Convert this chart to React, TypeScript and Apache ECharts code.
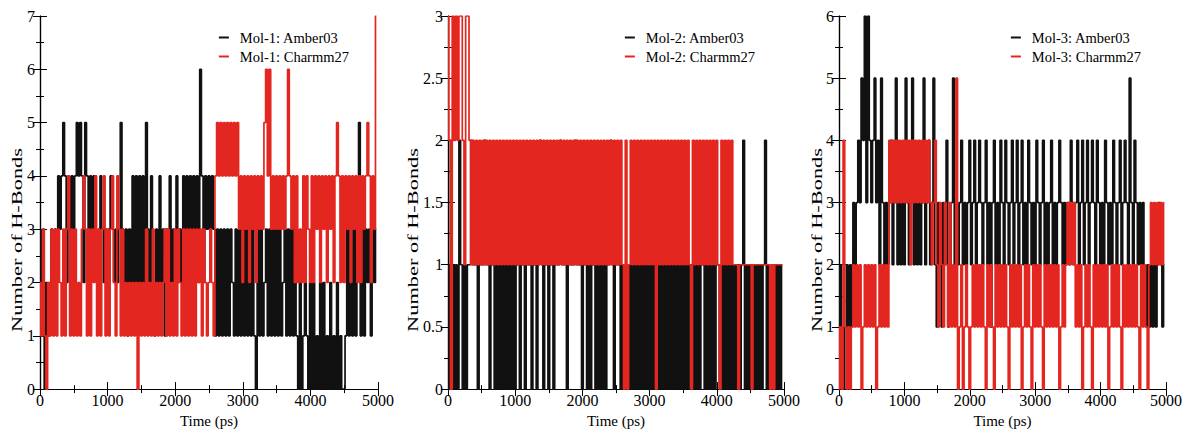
import React, { useEffect, useRef } from "react";
import * as echarts from "echarts";

const STEP_PS = 25;

const mol1Amber = [
  3,2,3,0,2,1,2,3,2,3, 2,4,3,4,5,4,2,4,3,4, 2,4,5,4,5,4,2,5,4,2, 4,3,4,3,2,3,4,3,2,3,
  2,3,4,3,2,3,2,3,5,3, 2,3,1,3,2,4,2,4,2,4, 2,4,2,5,3,2,4,2,1,3, 2,4,2,3,1,3,2,4,2,3,
  2,4,2,3,2,4,2,4,3,4, 2,4,3,4,2,6,4,2,4,3, 4,3,4,3,1,3,1,3,1,3, 1,3,1,3,2,1,3,1,3,1,
  3,1,3,1,3,1,3,1,0,3, 1,3,1,2,3,1,3,1,3,1, 3,1,3,1,2,3,1,3,1,3, 1,3,1,0,2,0,1,3,1,0,
  2,0,2,0,1,0,2,0,2,0, 1,0,2,0,1,0,2,0,1,0, 0,1,3,1,3,1,3,1,3,5, 1,3,1,3,2,3,1,3,2,3,
];
const mol1Charmm = [
  2,1,3,1,0,2,1,3,1,3, 1,3,2,1,3,1,3,4,1,3, 1,3,1,2,1,3,4,3,1,3, 1,3,2,4,1,3,1,3,4,1,
  3,1,3,4,2,1,4,3,1,3, 1,2,1,2,1,2,1,2,0,2, 1,2,1,3,1,2,1,3,1,2, 1,2,1,2,3,1,3,1,2,1,
  3,1,3,2,1,3,1,3,1,3, 1,3,1,3,2,3,1,3,2,1, 2,3,2,1,4,5,4,5,4,5, 4,5,4,5,4,5,4,5,3,4,
  2,4,3,4,2,4,3,4,2,4, 3,4,3,5,6,4,6,3,4,3, 4,3,4,3,4,3,4,6,4,3, 4,2,4,2,3,2,4,2,4,3,
  2,4,2,4,3,4,2,4,3,4, 2,4,3,4,2,4,5,4,2,4, 2,4,3,4,2,4,3,4,2,4, 2,4,3,4,5,4,2,4,3,7,
];
const mol2Amber = [
  1,0,2,1,0,1,0,2,1,0,1,0,
  1,1,2,1,1,1,0,1,1,1,2,1,1,0,1,1,
  0,1,0,1,0,1,0,1,0,1,0,1,0,
  1,1,0,1,1,0,1,1,1,0,1,1,0,1,2,1,0,1,1,0,1,1,0,
  1,1,1,2,1,1,1,0,1,1,1,1,2,1,1,1,
  0,1,1,0,1,0,1,1,0,1,0,1,0,1,0,
  1,1,2,1,0,1,1,1,0,1,
  0,1,0,1,0,1,0,1,0,1,0,1,0,1,0,
  1,0,1,0,1,0,1,0,1,0,1,0,1,0,1,0,1,0,1,0,
  1,0,1,0,1,1,0,1,0,1,0,1,1,0,1,0,1,0,1,0,1,1,0,1,0,1,0,
  1,0,1,0,1,0,1,0,1,2,0,1,0,1,0,1,0,1,0,1,0,1,2,0,1,0,1,0,1,0,1,0,1,
];
const mol2Charmm = [
  3,2,0,3,2,3,2,3,3,2,1,3,3,2, 1,2,1,2,1,2,
  1,2,1,2,1,2,1,2,1,2, 1,2,1,2,1,2,1,2,1,2, 1,2,1,2,1,2,1,2,1,2, 1,2,1,2,1,2,1,2,1,2,
  1,2,1,2,1,2,1,2,1,2, 1,2,1,2,1,2,1,2,1,2, 1,2,1,2,1,2,1,2,1,2, 1,2,1,2,1,2,1,2,1,2,
  1,2,1,2,1,0,2,0,1,2, 1,2,1,2,1,2,1,2,1,2, 1,2,1,2,0,2,1,2,1,2, 1,2,1,2,1,2,1,2,1,2,
  1,2,1,2,1,0,2,1,2,1, 2,1,2,1,2,1,2,1,2,1, 2,1,0,2,1,2,1,2,1,2,1,
  1,1,0,1,1,1,1,1,1,1, 0,1,1,1,1,1,1,1,1,1, 1,0,1,0,1,1,1,1,1,
];
const mol3Amber = [
  1,2,1,0,1,2,1,2,1,3, 2,3,4,3,5,4,6,3,6,4, 3,4,5,3,4,2,5,3,2,3, 2,3,4,2,3,5,2,3,2,3,
  2,5,3,2,3,5,2,3,2,3, 2,3,5,2,3,4,2,3,5,2, 1,3,2,1,3,2,4,1,2,3, 5,2,3,2,3,4,2,3,2,3,
  4,2,3,4,2,3,4,3,2,3, 4,2,3,1,3,4,2,3,2,4, 3,2,4,3,2,3,4,2,3,4, 2,3,4,2,3,2,4,3,2,3,
  2,4,3,2,3,4,2,3,2,3, 4,2,3,2,3,4,3,2,3,2, 3,2,4,3,2,3,4,2,3,4, 2,3,4,2,3,4,3,2,4,3,
  2,3,2,4,3,2,3,2,4,3, 2,3,4,2,3,4,3,2,5,3, 2,4,3,2,3,2,3,2,1,2, 1,2,1,2,1,2,3,2,1,2,
];
const mol3Charmm = [
  0,1,0,4,1,0,1,0,1,2, 1,2,1,2,0,1,2,1,2,1, 2,1,2,0,1,2,1,2,1,2, 1,4,3,4,3,4,3,4,3,4,
  3,4,3,4,2,4,3,4,3,4, 3,4,3,4,3,4,3,2,3,4, 2,1,3,2,1,3,2,1,3,1, 2,1,5,0,1,2,0,1,2,1,
  0,1,2,1,2,1,2,1,2,1, 0,2,1,2,1,0,2,1,2,1, 2,1,2,1,0,2,1,2,1,2, 1,2,0,1,2,1,2,1,0,2,
  1,2,1,2,1,0,2,1,2,1, 2,1,2,1,2,0,1,2,1,2, 3,2,3,2,3,1,2,1,2,0, 1,2,1,2,1,0,2,1,2,1,
  2,1,2,1,2,0,1,2,1,2, 1,2,1,0,2,1,2,1,2,1, 2,1,2,1,0,2,1,2,1,0, 2,3,2,3,2,3,2,3,2,3,
];

const panels = [
  { mol: "Mol-1", amber: mol1Amber, charmm: mol1Charmm, yMax: 7, yInt: 1, left: 40, width: 338, nameX: 17 },
  { mol: "Mol-2", amber: mol2Amber, charmm: mol2Charmm, yMax: 3, yInt: 0.5, left: 448, width: 336, nameX: 413 },
  { mol: "Mol-3", amber: mol3Amber, charmm: mol3Charmm, yMax: 6, yInt: 1, left: 839, width: 331, nameX: 817 },
];

const FONT = "Liberation Serif";
const BLACK = "#111111";
const RED = "#e3261f";

function toPairs(vals: number[]) {
  return vals.map((v, i) => [i * STEP_PS, v]);
}

export default function App() {
  const ref = useRef<HTMLDivElement>(null);
  useEffect(() => {
    if (!ref.current) return;
    const chart = echarts.init(ref.current, null, { renderer: "svg" });
    const grid: any[] = [];
    const xAxis: any[] = [];
    const yAxis: any[] = [];
    const series: any[] = [];
    const legend: any[] = [];
    const graphic: any[] = [];
    const axisCommon = {
      axisLine: { show: true, lineStyle: { color: "#000", width: 1.2 } },
      axisTick: { show: true, inside: true, length: 7, lineStyle: { color: "#000" } },
      minorTick: { show: true, splitNumber: 2, length: 4, lineStyle: { color: "#000" } },
      splitLine: { show: false },
    };
    panels.forEach((p, k) => {
      grid.push({ left: p.left, top: 16, width: p.width, height: 382 });
      const xBase = {
        ...axisCommon,
        type: "value",
        gridIndex: k,
        min: 0,
        max: 5000,
        interval: 1000,
      };
      xAxis.push({
        ...xBase,
        position: "bottom",
        name: "Time (ps)",
        nameLocation: "middle",
        nameGap: 21,
        nameTextStyle: { fontFamily: FONT, fontSize: 15, color: "#000" },
        axisLabel: {
          fontFamily: FONT,
          fontSize: 16,
          color: "#000",
          margin: 3,
          formatter: (v: number) => String(v),
        },
      });
      xAxis.push({ ...xBase, position: "top", axisLabel: { show: false } });
      const yBase = {
        ...axisCommon,
        type: "value",
        gridIndex: k,
        min: 0,
        max: p.yMax,
        interval: p.yInt,
      };
      yAxis.push({
        ...yBase,
        position: "left",
        axisLabel: {
          fontFamily: FONT,
          fontSize: 16,
          color: "#000",
          margin: 5,
          formatter: (v: number) => String(v),
        },
      });
      yAxis.push({ ...yBase, position: "right", axisLabel: { show: false } });
      graphic.push({
        type: "text",
        x: p.nameX,
        y: 240,
        rotation: Math.PI / 2,
        scaleX: 1.6,
        scaleY: 1,
        style: {
          text: "Number of H-Bonds",
          fontFamily: FONT,
          fontSize: 14,
          fill: "#000",
          align: "center",
          verticalAlign: "middle",
        },
      });
      const nA = `${p.mol}: Amber03`;
      const nC = `${p.mol}: Charmm27`;
      series.push({
        name: nA,
        type: "line",
        step: "middle",
        xAxisIndex: 2 * k,
        yAxisIndex: 2 * k,
        data: toPairs(p.amber),
        showSymbol: false,
        symbol: "none",
        lineStyle: { color: BLACK, width: 1.7 },
        itemStyle: { color: BLACK },
        z: 2,
      });
      series.push({
        name: nC,
        type: "line",
        step: "middle",
        xAxisIndex: 2 * k,
        yAxisIndex: 2 * k,
        data: toPairs(p.charmm),
        showSymbol: false,
        symbol: "none",
        lineStyle: { color: RED, width: 1.7 },
        itemStyle: { color: RED },
        z: 3,
      });
      legend.push({
        data: [
          { name: nA, itemStyle: { color: BLACK } },
          { name: nC, itemStyle: { color: RED } },
        ],
        orient: "vertical",
        right: 1185 - (p.left + p.width) + 24,
        top: 25,
        icon: "rect",
        itemWidth: 10,
        itemHeight: 2,
        itemGap: 4,
        selectedMode: false,
        textStyle: { fontFamily: FONT, fontSize: 14.5, color: "#000", padding: [0, 0, 0, 6] },
      });
    });
    chart.setOption({
      animation: false,
      backgroundColor: "#fff",
      textStyle: { fontFamily: FONT },
      grid,
      xAxis,
      yAxis,
      series,
      legend,
      graphic,
    });
    return () => chart.dispose();
  }, []);
  return (
    <div
      ref={ref}
      style={{ position: "fixed", left: 0, top: 0, width: 1185, height: 433 }}
    />
  );
}
